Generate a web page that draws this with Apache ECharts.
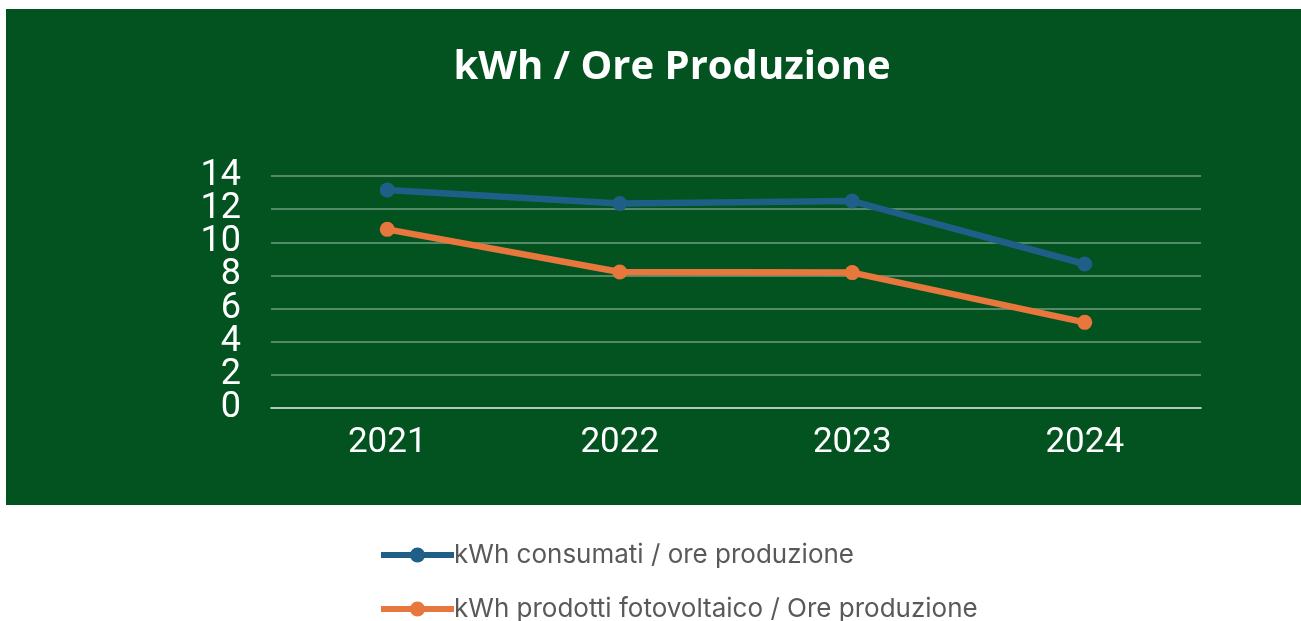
<!DOCTYPE html>
<html lang="it" style="height: 100%">
<head>
    <meta charset="utf-8">
    <title>kWh / Ore Produzione</title>
    <script src="https://cdn.jsdelivr.net/npm/echarts@6/dist/echarts.min.js"></script>
</head>
<body style="height: 100%; margin: 0; background: #ffffff">
    <div id="main" style="width: 1301px; height: 621px"></div>
    <script type="text/javascript">
        // dati
        var anni = ['2021', '2022', '2023', '2024'];
        var consumati = [13.16, 12.34, 12.49, 8.69];
        var fotovoltaico = [10.78, 8.21, 8.17, 5.17];
        var nomiSerie = ['kWh consumati / ore produzione', 'kWh prodotti fotovoltaico / Ore produzione'];
        var yMin = 0, yMax = 14, yPasso = 2;

        var myChart = echarts.init(document.getElementById('main'));

        // una legenda per riga
        function legenda(nome, top) {
            return {
                orient: 'vertical',
                left: 373,
                top: top,
                itemWidth: 73,
                itemHeight: 19,
                lineStyle: { width: 6 },
                textStyle: {
                    color: '#595959',
                    fontFamily: 'Inter',
                    fontSize: 26,
                    padding: [0, 0, 0, -5]
                },
                data: [nome]
            };
        }

        // le etichette y sono fitte: due assi sovrapposti, uno per i multipli di 4 e uno per gli altri
        function asseY(resto, griglia) {
            return {
                type: 'value',
                position: 'left',
                min: yMin,
                max: yMax,
                interval: yPasso,
                axisLine: { show: false },
                axisTick: { show: false },
                splitLine: { show: griglia, lineStyle: { color: 'rgba(255,255,255,0.32)', width: 2 } },
                axisLabel: {
                    color: '#ffffff',
                    fontFamily: 'Roboto',
                    fontSize: 36,
                    margin: 30,
                    padding: [6, 0, 0, 0],
                    showMinLabel: resto === 0,
                    showMaxLabel: resto !== 0,
                    formatter: function (v) { return v % 4 === resto ? String(v) : ''; }
                }
            };
        }

        var option = {
            backgroundColor: '#ffffff',
            graphic: [
                {
                    type: 'rect',
                    z: -10,
                    shape: { x: 6, y: 9, width: 1295, height: 496 },
                    style: { fill: '#02531f' }
                }
            ],
            title: {
                text: 'kWh / Ore Produzione',
                left: 667,
                textAlign: 'center',
                top: 43,
                textStyle: {
                    color: '#ffffff',
                    fontFamily: 'Open Sans',
                    fontWeight: 'bold',
                    fontSize: 40
                }
            },
            legend: [
                legenda(nomiSerie[0], 537),
                legenda(nomiSerie[1], 591)
            ],
            grid: {
                left: 271,
                right: 100,
                top: 176,
                bottom: 213
            },
            xAxis: {
                type: 'category',
                data: anni,
                axisTick: { show: false },
                axisLine: { lineStyle: { color: 'rgba(255,255,255,0.55)', width: 2 } },
                axisLabel: {
                    color: '#ffffff',
                    fontFamily: 'Roboto',
                    fontSize: 35,
                    margin: 18
                }
            },
            yAxis: [asseY(0, true), asseY(2, false)],
            series: [
                {
                    name: nomiSerie[0],
                    type: 'line',
                    data: consumati,
                    symbol: 'circle',
                    symbolSize: 15,
                    color: '#1f5f87',
                    lineStyle: { width: 6.5 }
                },
                {
                    name: nomiSerie[1],
                    type: 'line',
                    data: fotovoltaico,
                    symbol: 'circle',
                    symbolSize: 15,
                    color: '#e8773d',
                    lineStyle: { width: 6.5 }
                }
            ]
        };

        myChart.setOption(option);
    </script>
</body>
</html>
